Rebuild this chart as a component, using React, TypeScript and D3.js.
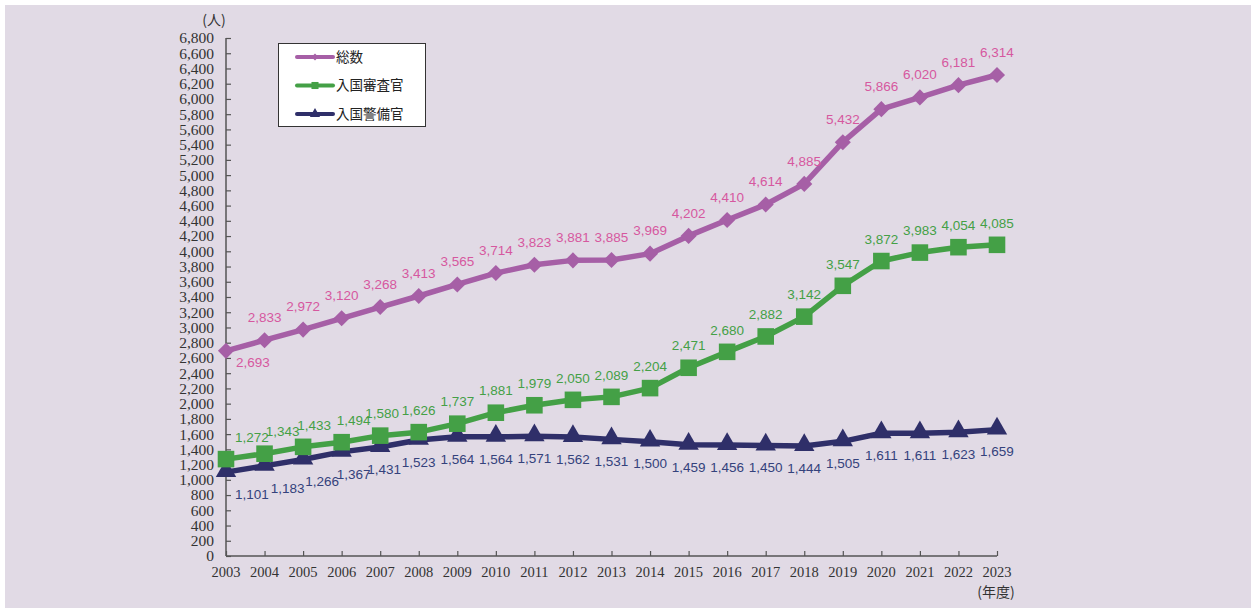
import { useEffect, useRef } from "react";
import * as d3 from "d3";

const YEARS = [
  2003, 2004, 2005, 2006, 2007, 2008, 2009, 2010, 2011, 2012, 2013,
  2014, 2015, 2016, 2017, 2018, 2019, 2020, 2021, 2022, 2023,
];
const TOTAL = [
  2693, 2833, 2972, 3120, 3268, 3413, 3565, 3714, 3823, 3881, 3885,
  3969, 4202, 4410, 4614, 4885, 5432, 5866, 6020, 6181, 6314,
];
const EXAMINERS = [
  1272, 1343, 1433, 1494, 1580, 1626, 1737, 1881, 1979, 2050, 2089,
  2204, 2471, 2680, 2882, 3142, 3547, 3872, 3983, 4054, 4085,
];
const GUARDS = [
  1101, 1183, 1266, 1367, 1431, 1523, 1564, 1564, 1571, 1562, 1531,
  1500, 1459, 1456, 1450, 1444, 1505, 1611, 1611, 1623, 1659,
];
const SERIES_NAMES = ["総数", "入国審査官", "入国警備官"];

// label nudges for the crowded left end (px)
const TOTAL_DX = [27, 0];
const EXAM_DX = [26, 18, 11, 12, 2];
const GUARD_DX = [26, 23, 19, 12, 4];

const W = 1253;
const H = 608;
const PURPLE = "#a65fa6";
const PINK = "#d6589f";
const GREEN = "#44a046";
const NAVY = "#2f2f69";
const NAVY_TEXT = "#34427c";
const SERIF = "'Liberation Serif', 'DejaVu Serif', serif";
const SANS = "'Liberation Sans', Arial, sans-serif";
const JP = "'Noto Sans CJK JP', sans-serif";

export default function App() {
  const svgRef = useRef<SVGSVGElement>(null);

  useEffect(() => {
    if (!svgRef.current) return;
    const svg = d3.select(svgRef.current);
    svg.selectAll("*").remove();

    svg.append("rect").attr("x", 5).attr("y", 5).attr("width", 1246).attr("height", 603).attr("fill", "#e1dae5");

    const x = d3.scaleLinear().domain([2003, 2023]).range([226, 997]);
    const y = d3.scaleLinear().domain([0, 6800]).range([556, 38]);

    // Y axis
    svg.append("g")
      .attr("transform", "translate(226,0)")
      .call(d3.axisRight(y).tickValues(d3.range(0, 6801, 200)).tickSize(5).tickFormat(() => ""))
      .call((g) => g.select(".domain").attr("stroke", "#555").attr("stroke-width", 1.5).attr("d", "M0,38V556"))
      .call((g) => g.selectAll(".tick line").attr("stroke", "#555").attr("stroke-width", 1.2));

    svg.append("g")
      .selectAll("text")
      .data(d3.range(0, 6801, 200))
      .join("text")
      .attr("x", 214)
      .attr("y", (d) => y(d))
      .attr("dy", "0.35em")
      .attr("text-anchor", "end")
      .attr("font-family", SERIF)
      .attr("font-size", 15.5)
      .attr("fill", "#333")
      .text((d) => d3.format(",")(d));

    // X axis
    svg.append("g")
      .attr("transform", "translate(0,556)")
      .call(d3.axisTop(x).tickValues(YEARS).tickSize(5).tickFormat(() => ""))
      .call((g) => g.select(".domain").attr("stroke", "#555").attr("stroke-width", 1.5).attr("d", "M226,0H997"))
      .call((g) => g.selectAll(".tick line").attr("stroke", "#555").attr("stroke-width", 1.2));

    svg.append("g")
      .selectAll("text")
      .data(YEARS)
      .join("text")
      .attr("x", (d) => x(d))
      .attr("y", 577)
      .attr("text-anchor", "middle")
      .attr("font-family", SERIF)
      .attr("font-size", 14.5)
      .attr("fill", "#333")
      .text((d) => d);

    svg.append("text").attr("x", 996).attr("y", 597).attr("text-anchor", "middle")
      .attr("font-family", JP).attr("font-size", 14).attr("fill", "#333").text("(年度)");
    svg.append("text").attr("x", 214).attr("y", 25).attr("text-anchor", "middle")
      .attr("font-family", JP).attr("font-size", 14).attr("fill", "#333").text("(人)");

    const line = d3.line<number>().x((_, i) => x(YEARS[i])).y((d) => y(d));

    const diamond = d3.symbol().type(d3.symbolDiamond2).size(165)();
    const square = d3.symbol().type(d3.symbolSquare).size(275)();
    const triangle = d3.symbol().type(d3.symbolTriangle).size(180)();

    const series = [
      { data: GUARDS, color: NAVY, text: NAVY_TEXT, shape: triangle, dy: 22, dx: GUARD_DX, ty: -1 },
      { data: EXAMINERS, color: GREEN, text: GREEN, shape: square, dy: -22, dx: EXAM_DX, ty: 0 },
      { data: TOTAL, color: PURPLE, text: PINK, shape: diamond, dy: -23, dx: TOTAL_DX, ty: 0 },
    ];

    series.forEach((s) => {
      svg.append("path")
        .datum(s.data)
        .attr("d", line)
        .attr("fill", "none")
        .attr("stroke", s.color)
        .attr("stroke-width", 5.5)
        .attr("stroke-linejoin", "round");

      svg.append("g")
        .selectAll("path")
        .data(s.data)
        .join("path")
        .attr("d", s.shape)
        .attr("transform", (d, i) => `translate(${x(YEARS[i])},${y(d) + s.ty})`)
        .attr("fill", s.color);
    });

    series.forEach((s, si) => {
      svg.append("g")
        .selectAll("text")
        .data(s.data)
        .join("text")
        .attr("x", (d, i) => x(YEARS[i]) + (s.dx[i] ?? 0))
        .attr("y", (d, i) => y(d) + (si === 2 && i === 0 ? 11 : s.dy))
        .attr("dy", "0.35em")
        .attr("text-anchor", "middle")
        .attr("font-family", SANS)
        .attr("font-size", 13.5)
        .attr("fill", s.text)
        .text((d) => d3.format(",")(d));
    });

    // Legend
    const lg = svg.append("g");
    lg.append("rect").attr("x", 278.5).attr("y", 43.5).attr("width", 147).attr("height", 83)
      .attr("fill", "#fff").attr("stroke", "#333").attr("stroke-width", 1);
    const legendItems = [
      { name: SERIES_NAMES[0], color: PURPLE, shape: d3.symbol().type(d3.symbolDiamond2).size(30)() },
      { name: SERIES_NAMES[1], color: GREEN, shape: d3.symbol().type(d3.symbolSquare).size(50)() },
      { name: SERIES_NAMES[2], color: NAVY, shape: d3.symbol().type(d3.symbolTriangle).size(45)() },
    ];
    legendItems.forEach((item, i) => {
      const ly = 57 + i * 28.5;
      lg.append("line").attr("x1", 297).attr("x2", 333).attr("y1", ly).attr("y2", ly)
        .attr("stroke", item.color).attr("stroke-width", 4).attr("stroke-linecap", "round");
      lg.append("path").attr("d", item.shape).attr("transform", `translate(315,${ly})`).attr("fill", item.color);
      lg.append("text").attr("x", 336).attr("y", ly).attr("dy", "0.36em")
        .attr("font-family", JP).attr("font-size", 13.5).attr("fill", "#222").text(item.name);
    });
  }, []);

  return <svg ref={svgRef} width={W} height={H} style={{ display: "block", position: "absolute", left: 0, top: 0 }} />;
}
